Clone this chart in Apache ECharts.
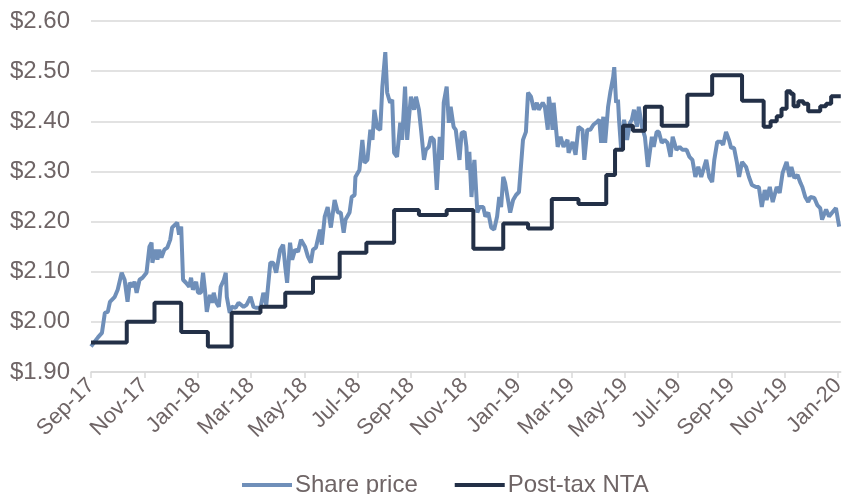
<!DOCTYPE html>
<html>
<head>
<meta charset="utf-8">
<script src="https://cdn.jsdelivr.net/npm/echarts@6/dist/echarts.min.js"></script>
<style>
  html, body { margin: 0; padding: 0; background: #fff; }
  #main { width: 848px; height: 494px; }
</style>
</head>
<body>
<div id="main"></div>
<script>
// x positions are months since 1 Sep 2017
var tickLabels = ['Sep-17', 'Nov-17', 'Jan-18', 'Mar-18', 'May-18', 'Jul-18', 'Sep-18', 'Nov-18',
                  'Jan-19', 'Mar-19', 'May-19', 'Jul-19', 'Sep-19', 'Nov-19', 'Jan-20'];

var shareMonths = [0.00, 0.26, 0.41, 0.52, 0.63, 0.71, 0.89, 1.00, 1.15, 1.26, 1.37, 1.45, 1.56, 1.63, 1.71, 1.82,
  1.93, 2.08, 2.19, 2.27, 2.30, 2.41, 2.49, 2.56, 2.64, 2.75, 2.86, 2.97, 3.04, 3.23, 3.30, 3.38,
  3.45, 3.56, 3.68, 3.75, 3.82, 3.94, 4.01, 4.12, 4.20, 4.27, 4.34, 4.46, 4.53, 4.60, 4.68, 4.79,
  4.86, 4.98, 5.05, 5.09, 5.20, 5.27, 5.42, 5.53, 5.72, 5.83, 5.98, 6.09, 6.20, 6.35, 6.46, 6.57,
  6.72, 6.83, 6.94, 7.09, 7.20, 7.28, 7.35, 7.46, 7.54, 7.65, 7.76, 7.87, 8.02, 8.13, 8.24, 8.32,
  8.43, 8.58, 8.65, 8.76, 8.87, 8.99, 9.13, 9.25, 9.36, 9.47, 9.54, 9.69, 9.77, 9.88, 9.91, 10.06,
  10.17, 10.25, 10.36, 10.47, 10.55, 10.62, 10.73, 10.84, 10.92, 11.03, 11.10, 11.21, 11.29, 11.36, 11.47, 11.59,
  11.66, 11.77, 11.85, 11.92, 11.99, 12.11, 12.18, 12.29, 12.37, 12.48, 12.55, 12.66, 12.74, 12.85, 12.96, 13.07,
  13.15, 13.22, 13.33, 13.41, 13.48, 13.59, 13.67, 13.81, 13.89, 14.00, 14.07, 14.11, 14.18, 14.26, 14.33, 14.37,
  14.48, 14.56, 14.70, 14.78, 14.89, 15.00, 15.11, 15.22, 15.30, 15.37, 15.45, 15.52, 15.63, 15.71, 15.82, 15.93,
  16.04, 16.19, 16.30, 16.38, 16.49, 16.60, 16.71, 16.78, 16.93, 17.01, 17.12, 17.16, 17.23, 17.30, 17.34, 17.49,
  17.60, 17.71, 17.86, 17.90, 18.05, 18.16, 18.27, 18.42, 18.49, 18.60, 18.71, 18.83, 18.97, 19.05, 19.12, 19.20,
  19.27, 19.38, 19.46, 19.57, 19.61, 19.68, 19.75, 19.79, 19.87, 19.98, 20.09, 20.20, 20.27, 20.35, 20.46, 20.53,
  20.65, 20.76, 20.87, 21.02, 21.09, 21.20, 21.28, 21.39, 21.50, 21.61, 21.72, 21.80, 21.94, 22.06, 22.17, 22.32,
  22.43, 22.54, 22.65, 22.76, 22.87, 22.91, 23.06, 23.17, 23.28, 23.36, 23.47, 23.62, 23.69, 23.80, 23.91, 23.99,
  24.10, 24.21, 24.29, 24.40, 24.55, 24.66, 24.77, 24.92, 25.03, 25.14, 25.25, 25.32, 25.44, 25.55, 25.70, 25.81,
  25.92, 26.07, 26.18, 26.25, 26.36, 26.48, 26.59, 26.66, 26.77, 26.88, 26.96, 27.11, 27.22, 27.33, 27.40, 27.55,
  27.66, 27.78, 27.92, 28.04];

var sharePrices = [1.951, 1.969, 1.978, 2.018, 2.020, 2.040, 2.050, 2.064, 2.098, 2.084, 2.040, 2.078, 2.070, 2.080, 2.058, 2.084,
  2.088, 2.098, 2.150, 2.158, 2.118, 2.144, 2.124, 2.144, 2.128, 2.144, 2.148, 2.164, 2.188, 2.198, 2.174, 2.190,
  2.084, 2.078, 2.070, 2.088, 2.064, 2.080, 2.058, 2.058, 2.098, 2.064, 2.020, 2.054, 2.038, 2.058, 2.040, 2.030,
  2.070, 2.084, 2.098, 2.050, 2.018, 2.030, 2.028, 2.038, 2.030, 2.034, 2.050, 2.030, 2.028, 2.028, 2.058, 2.034,
  2.118, 2.118, 2.098, 2.144, 2.154, 2.110, 2.078, 2.158, 2.124, 2.144, 2.140, 2.164, 2.150, 2.130, 2.118, 2.144,
  2.148, 2.184, 2.154, 2.210, 2.229, 2.188, 2.243, 2.218, 2.218, 2.178, 2.204, 2.218, 2.249, 2.253, 2.289, 2.303,
  2.363, 2.317, 2.323, 2.383, 2.363, 2.423, 2.387, 2.383, 2.469, 2.538, 2.457, 2.437, 2.443, 2.337, 2.329, 2.397,
  2.363, 2.469, 2.363, 2.409, 2.449, 2.423, 2.449, 2.423, 2.383, 2.323, 2.343, 2.349, 2.369, 2.363, 2.263, 2.369,
  2.323, 2.437, 2.469, 2.397, 2.429, 2.389, 2.383, 2.323, 2.377, 2.379, 2.349, 2.303, 2.339, 2.249, 2.303, 2.323,
  2.218, 2.229, 2.229, 2.210, 2.218, 2.188, 2.184, 2.210, 2.249, 2.229, 2.289, 2.277, 2.243, 2.218, 2.243, 2.253,
  2.259, 2.363, 2.379, 2.457, 2.449, 2.423, 2.437, 2.423, 2.437, 2.429, 2.383, 2.449, 2.423, 2.383, 2.437, 2.349,
  2.369, 2.349, 2.363, 2.337, 2.359, 2.333, 2.389, 2.383, 2.323, 2.383, 2.383, 2.393, 2.399, 2.403, 2.357, 2.409,
  2.357, 2.429, 2.457, 2.488, 2.508, 2.437, 2.443, 2.403, 2.343, 2.403, 2.363, 2.397, 2.403, 2.423, 2.389, 2.429,
  2.389, 2.369, 2.309, 2.369, 2.349, 2.379, 2.379, 2.357, 2.363, 2.357, 2.329, 2.369, 2.343, 2.349, 2.343, 2.343,
  2.329, 2.323, 2.289, 2.309, 2.289, 2.289, 2.323, 2.289, 2.279, 2.323, 2.359, 2.359, 2.353, 2.379, 2.363, 2.347,
  2.347, 2.317, 2.289, 2.319, 2.309, 2.289, 2.273, 2.269, 2.269, 2.229, 2.263, 2.243, 2.269, 2.239, 2.269, 2.257,
  2.297, 2.319, 2.289, 2.309, 2.287, 2.293, 2.277, 2.269, 2.249, 2.239, 2.249, 2.247, 2.233, 2.227, 2.204, 2.224,
  2.210, 2.218, 2.227, 2.190];

var ntaMonths = [0.00, 1.34, 2.38, 3.38, 4.38, 5.27, 6.35, 7.28, 8.32, 9.32, 10.32, 11.36, 12.29, 13.33, 14.33, 15.45,
  16.38, 17.27, 18.27, 19.31, 19.64, 19.94, 20.31, 20.76, 21.39, 22.35, 23.28, 24.40, 25.21, 25.47, 25.70, 25.88,
  26.07, 26.22, 26.33, 26.51, 26.70, 26.88, 27.14, 27.33, 27.55, 27.74, 28.10];

var ntaValues = [1.959, 2.000, 2.038, 1.980, 1.951, 2.018, 2.030, 2.058, 2.088, 2.138, 2.158, 2.223, 2.213, 2.223, 2.146, 2.196,
  2.186, 2.245, 2.235, 2.293, 2.343, 2.391, 2.381, 2.429, 2.391, 2.453, 2.492, 2.441, 2.389, 2.400, 2.410, 2.425,
  2.460, 2.455, 2.430, 2.440, 2.435, 2.420, 2.420, 2.430, 2.435, 2.450, 2.450];

function pairs(xs, ys) {
  return xs.map(function (x, i) { return [x, ys[i]]; });
}

var labelColor = '#6f6566';
var gridColor = '#d9d9d9';

var chart = echarts.init(document.getElementById('main'));

var option = {
  animation: false,
  backgroundColor: '#ffffff',
  textStyle: { fontFamily: 'Liberation Sans, Arial, sans-serif' },
  grid: { left: 91, right: 0, top: 21, bottom: 122 },
  legend: {
    top: 473,
    left: 242,
    padding: 0,
    icon: 'rect',
    itemWidth: 50,
    itemHeight: 4,
    itemGap: 37,
    textStyle: { color: labelColor, fontSize: 24, padding: [0, 0, 0, -2] },
    data: ['Share price', 'Post-tax NTA']
  },
  xAxis: {
    type: 'value',
    min: 0,
    max: 28.1,
    interval: 2,
    axisLine: { show: true, lineStyle: { color: gridColor, width: 1.5 } },
    axisTick: { show: true, length: 6, lineStyle: { color: gridColor, width: 1.5 } },
    splitLine: { show: false },
    axisLabel: {
      rotate: 45,
      margin: 10,
      color: labelColor,
      fontSize: 22,
      showMaxLabel: false,
      formatter: function (v) {
        if (Math.abs(v - Math.round(v)) > 1e-6 || Math.round(v) % 2 !== 0) return '';
        return tickLabels[Math.round(v) / 2] || '';
      }
    }
  },
  yAxis: {
    type: 'value',
    min: 1.9,
    max: 2.6,
    interval: 0.1,
    axisLine: { show: false },
    axisTick: { show: false },
    splitLine: { lineStyle: { color: gridColor, width: 1.5 } },
    axisLabel: {
      margin: 21,
      color: labelColor,
      fontSize: 24,
      formatter: function (v) { return '$' + v.toFixed(2); }
    }
  },
  series: [
    {
      name: 'Share price',
      type: 'line',
      showSymbol: false,
      symbol: 'none',
      data: pairs(shareMonths, sharePrices),
      lineStyle: { color: '#6f8fb9', width: 4 },
      itemStyle: { color: '#6f8fb9' }
    },
    {
      name: 'Post-tax NTA',
      type: 'line',
      step: 'end',
      showSymbol: false,
      symbol: 'none',
      data: pairs(ntaMonths, ntaValues),
      lineStyle: { color: '#233047', width: 4 },
      itemStyle: { color: '#233047' }
    }
  ]
};

chart.setOption(option);
</script>
</body>
</html>
